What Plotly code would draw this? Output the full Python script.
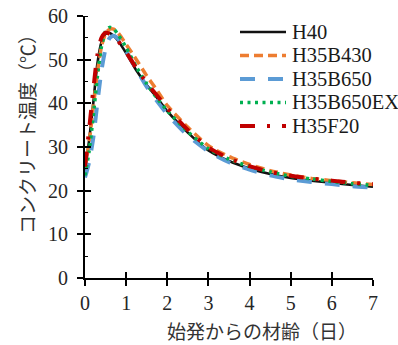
import plotly.graph_objects as go

# Age since start of placement (days)
age = [0, 0.1, 0.2, 0.3, 0.4, 0.5, 0.6, 0.7, 0.8, 1.0, 1.25, 1.5, 1.75,
       2.0, 2.5, 3.0, 3.5, 4.0, 4.5, 5.0, 5.5, 6.0, 6.5, 7.0]

# Concrete temperature (deg C) for each mix
h40 = [24.5, 31.5, 40.0, 49.0, 54.0, 55.9, 56.1, 55.4, 54.4, 51.5, 47.5, 44.2, 41.3,
       38.2, 33.3, 29.2, 26.8, 25.1, 23.8, 22.9, 22.3, 21.8, 21.3, 20.9]
h35b430 = [25.0, 31.0, 39.0, 47.0, 53.0, 56.0, 57.0, 57.0, 56.2, 53.5, 50.0, 46.3, 43.0,
           39.5, 34.5, 30.3, 27.8, 26.0, 24.6, 23.6, 22.8, 22.3, 21.8, 21.4]
h35b650 = [23.0, 26.5, 32.0, 40.0, 47.5, 52.5, 55.0, 55.5, 54.8, 52.0, 47.8, 43.8, 40.5,
           37.5, 32.6, 29.0, 26.5, 24.8, 23.5, 22.6, 22.0, 21.5, 21.0, 20.7]
h35b650ex = [23.5, 29.0, 37.0, 46.0, 53.0, 56.5, 57.4, 57.0, 55.8, 52.8, 48.3, 44.5, 41.2,
             38.3, 33.5, 29.6, 27.2, 25.5, 24.3, 23.3, 22.7, 22.1, 21.6, 21.2]
h35f20 = [25.5, 34.0, 43.0, 51.0, 55.0, 56.2, 55.9, 55.2, 54.3, 51.7, 48.0, 44.7, 41.8,
          38.9, 33.9, 29.9, 27.4, 25.6, 24.3, 23.4, 22.8, 22.3, 21.8, 21.5]

series_names = ["H40", "H35B430", "H35B650", "H35B650EX", "H35F20"]
series_values = [h40, h35b430, h35b650, h35b650ex, h35f20]

x_ticks = [0, 1, 2, 3, 4, 5, 6, 7]
y_ticks = [0, 10, 20, 30, 40, 50, 60]

x_title = "始発からの材齢（日）"
y_title = "コンクリート温度（℃）"

styles = [
    dict(color="#111111", width=2.6, dash="solid"),
    dict(color="#ED7D31", width=3.5, dash="9px,5px"),
    dict(color="#5B9BD5", width=4, dash="15px,13px"),
    dict(color="#00B050", width=3.5, dash="3px,4.5px"),
    dict(color="#C00000", width=4, dash="15px,12px,3px,12px"),
]

# plot-area geometry in pixels (used to place the hand-built key)
W, H = 398, 345
M_L, M_R, M_T, M_B = 85, 25, 16, 67
PW, PH = W - M_L - M_R, H - M_T - M_B


def px_x(p):
    return (p - M_L) / PW


def px_y(p):
    return (H - M_B - p) / PH


fig = go.Figure()
for name, vals, st in zip(series_names, series_values, styles):
    fig.add_trace(go.Scatter(
        x=age, y=vals, name=name, mode="lines",
        line=dict(color=st["color"], width=st["width"], dash=st["dash"],
                  shape="spline", smoothing=0.6),
        hoverinfo="skip", showlegend=False,
    ))

# empty trace that carries the inner tick axes
fig.add_trace(go.Scatter(x=[], y=[], xaxis="x2", yaxis="y2",
                         showlegend=False, hoverinfo="skip"))

serif = "Liberation Serif"
tick_font = dict(family=serif, size=20, color="#262626")
cjk_font = dict(family="Noto Sans CJK JP", size=19, color="#333333")

# key: line sample + label for every series
key_top, key_step = 32, 23.5
key_shapes, key_labels = [], []
for i, (name, st) in enumerate(zip(series_names, styles)):
    yc = key_top + i * key_step
    key_shapes.append(dict(
        type="line", xref="paper", yref="paper",
        x0=px_x(240), x1=px_x(286), y0=px_y(yc), y1=px_y(yc),
        line=dict(color=st["color"], width=st["width"], dash=st["dash"]),
    ))
    key_labels.append(dict(
        text=name, xref="paper", yref="paper", x=px_x(290), y=px_y(yc),
        xanchor="left", yanchor="middle", showarrow=False,
        font=dict(family=serif, size=20.5, color="#1a1a1a"),
    ))

fig.update_layout(
    width=W, height=H,
    margin=dict(l=M_L, r=M_R, t=M_T, b=M_B, autoexpand=False),
    paper_bgcolor="white", plot_bgcolor="white",
    showlegend=False,
    xaxis=dict(
        range=[0, 7], tickvals=x_ticks, ticks="outside", ticklen=6, tickwidth=1.5,
        tickcolor="black", showline=True, linewidth=2, linecolor="black",
        showgrid=False, zeroline=False, tickfont=tick_font, ticklabelstandoff=0,
    ),
    yaxis=dict(
        range=[0, 60], tickvals=y_ticks, ticks="outside", ticklen=6, tickwidth=1.5,
        tickcolor="black", showline=True, linewidth=2, linecolor="black",
        showgrid=False, zeroline=False, tickfont=tick_font, ticklabelstandoff=5,
        minor=dict(dtick=5, ticks="inside", ticklen=3, tickwidth=1.2,
                   tickcolor="black", showgrid=False),
    ),
    xaxis2=dict(
        overlaying="x", anchor="y", range=[0, 7], tickvals=x_ticks, ticks="inside",
        ticklen=6, tickwidth=1.5, tickcolor="black", showticklabels=False,
        showline=False, showgrid=False, zeroline=False,
    ),
    yaxis2=dict(
        overlaying="y", anchor="x", range=[0, 60], tickvals=y_ticks, ticks="inside",
        ticklen=6, tickwidth=1.5, tickcolor="black", showticklabels=False,
        showline=False, showgrid=False, zeroline=False,
    ),
    shapes=key_shapes,
    annotations=key_labels + [
        dict(text=x_title, xref="paper", yref="paper", x=0.615, y=-0.2,
             xanchor="center", yanchor="middle", showarrow=False, font=cjk_font),
        dict(text=y_title, xref="paper", yref="paper", x=-0.201, y=0.565,
             xanchor="center", yanchor="middle", showarrow=False, textangle=-90,
             font=cjk_font),
    ],
)

fig.write_html("out.html")
